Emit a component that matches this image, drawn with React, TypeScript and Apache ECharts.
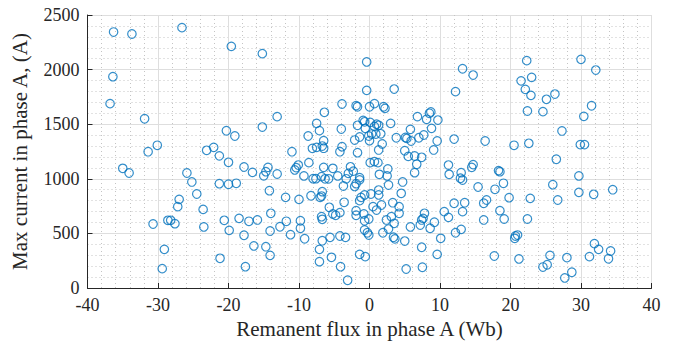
import React, { useEffect, useRef } from "react";
import * as echarts from "echarts";

const fluxA: number[] = [
  -36.3, -33.7, -26.6, -19.6, -36.4, -36.8, -31.9, -20.3, -30.1, -31.4, -23.1, -22.1, -21.3,
  -15.2, -0.4, -0.4, -3.9, -1.9, -1.7, 0.0, -6.4, -13.1, -15.2, -19.1, -7.5, -7.1, -4.0, -1.7, -0.9, -0.7, 0.1, -0.6, -8.7, -6.5, -2.1, -1.4, -0.1, 0.0, -11.0, -8.1, -7.5, -6.7, -6.5, -3.9, -4.2, -1.7,
  13.2, 14.7, 21.5, 3.5, 12.2, 0.7, 2.0, 2.2, 8.7, 8.5, 6.8, 8.1, 9.7, 3.0, 1.0, 0.7, 1.3, 8.8, 5.8, 0.3, 0.9, 1.6, 3.8, 5.1, 5.3, 7.0, 7.7, 5.9, 9.6, 12.0, 16.4, 20.5, 1.8, 1.3, 5.0, 9.1,
  22.3, 30.0, 32.1, 23.0, 22.1, 22.9, 25.1, 26.3, 22.4, 24.6, 31.5, 30.4, 27.3, 22.6, 29.9, 30.5,
  -20.0, -35.0, -34.1, -25.9, -25.2, -21.3, -20.0, -24.5, -27.0, -27.2, -23.6, -20.6, -28.6, -28.2, -27.6, -30.7, -23.5, -19.9, -29.1, -21.2, -29.4,
  -17.8, -16.6, -15.0, -14.7, -14.4, -13.1, -10.6, -10.4, -10.1, -8.6, -9.3, -8.0, -7.6, -6.5, -6.8, -6.3, -5.8, -5.2, -4.5, -2.7, -2.3, -3.0, -3.3, -1.4, -1.4, -2.1, -1.9, -3.7, 0.1, -18.9,
  -14.2, -11.9, -10.0, -8.3, -6.7, -6.8, -7.0, -3.6, -1.4, -1.2, -0.7, 0.2, 0.5, -14.0, -5.7, -5.2, -4.8, -4.2, -1.9, -1.9, -0.8, -0.7, -0.1, -18.5, -17.1, -15.9, -11.8, -12.7, -14.1, -9.8, -9.8, -6.8, -6.7,
  -17.8, -11.2, -9.2, -5.6, -4.2, -3.4, -6.7, -0.7, -0.3, -0.1, -16.4, -14.7, -14.1, -7.1, -7.1, -5.4, -1.4, -0.6, -17.6, -4.1, -3.1,
  5.5, 6.4, 7.4, 0.7, 1.2, 2.6, 6.7, 6.4, 1.4, 2.5, 2.7, 4.7, 4.5, 11.2, 11.3, 13.0, 12.9, 13.2, 14.5, 14.7, 15.4, 18.3, 18.5, 17.8, 19.0, 19.8, 1.3, 1.3, 1.0, 1.7, 3.3, 4.2, 4.2, 2.4, 3.1, 3.5,
  1.9, 2.7, 3.4, 3.6, 5.0, 5.8, 7.2, 7.4, 7.6, 7.8, 8.6, 9.2, 7.4, 10.1, 10.6, 11.2, 12.0, 13.2, 13.5, 12.2, 13.0, 9.6, 5.2, 7.5, 16.2, 16.6, 16.2, 18.5, 19.1, 17.7, 20.7, 20.6, 21.0, 21.2,
  26.5, 29.7, 26.0, 29.7, 31.8, 34.5, 22.8, 26.7, 22.4, 31.9, 32.5, 34.2, 33.9, 31.2, 25.6, 24.6, 25.2, 28.0, 27.7, 28.7,
];

const currentA: number[] = [
  2344, 2326, 2384, 2213, 1935, 1688, 1550, 1440, 1307, 1248, 1261, 1288, 1210,
  2146, 2070, 1810, 1685, 1670, 1660, 1660, 1609, 1569, 1474, 1392, 1508, 1441, 1456, 1490, 1535, 1522, 1517, 1462, 1392, 1349, 1355, 1383, 1392, 1349, 1248, 1279, 1288, 1300, 1280, 1294, 1248, 1239,
  2008, 1950, 1897, 1822, 1798, 1688, 1660, 1645, 1612, 1600, 1569, 1545, 1538, 1508, 1500, 1480, 1490, 1462, 1453, 1410, 1410, 1412, 1376, 1378, 1370, 1376, 1401, 1346, 1346, 1364, 1346, 1307, 1319, 1264, 1257, 1264,
  2082, 2094, 1996, 1929, 1819, 1764, 1728, 1776, 1621, 1615, 1669, 1572, 1438, 1325, 1313, 1313,
  1151, 1096, 1053, 1053, 971, 955, 950, 861, 812, 745, 720, 620, 620, 620, 589, 586, 559, 528, 354, 272, 177,
  1108, 1059, 1028, 1065, 1105, 1044, 1081, 1102, 1126, 1148, 1026, 1001, 1001, 1105, 1020, 1000, 1000, 1096, 1026, 1110, 1070, 1050, 1000, 1010, 990, 930, 955, 934, 1148, 959,
  891, 830, 812, 845, 882, 842, 830, 785, 800, 830, 852, 861, 745, 684, 739, 678, 666, 690, 708, 666, 678, 616, 632, 638, 611, 623, 611, 561, 522, 616, 547, 653, 629,
  483, 488, 451, 464, 476, 464, 433, 531, 506, 485, 385, 378, 299, 354, 241, 281, 308, 287, 195, 195, 71,
  1205, 1209, 1197, 1157, 1148, 1090, 1133, 1056, 1041, 1026, 943, 971, 867, 1126, 1041, 1056, 1005, 989, 1105, 1130, 925, 1075, 1065, 904, 959, 827, 897, 852, 714, 760, 781, 745, 684, 623, 653, 592,
  506, 540, 465, 450, 430, 559, 577, 623, 638, 684, 547, 602, 373, 455, 699, 647, 776, 699, 781, 506, 537, 308, 174, 190, 776, 806, 623, 708, 632, 293, 476, 455, 485, 266,
  1179, 1026, 946, 876, 858, 900, 821, 806, 632, 406, 354, 339, 268, 287, 299, 192, 213, 278, 92, 144,
];

const xTicks = [-40, 40, 10];
const yTicks = [0, 2500, 500];

const FONT = "Liberation Serif";
const TEXT = "#262626";

export default function App() {
  const ref = useRef<HTMLDivElement>(null);
  useEffect(() => {
    if (!ref.current) return;
    const chart = echarts.init(ref.current, undefined, { renderer: "svg" });
    const points = fluxA.map((x, i) => [x, currentA[i]]);
    const label = {
      color: TEXT,
      fontFamily: FONT,
      fontSize: 18,
      margin: 8,
      formatter: (v: number) => String(v),
    };
    const axisCommon = {
      axisLine: { show: true, onZero: false, lineStyle: { color: TEXT, width: 1 } },
      axisTick: { show: true, inside: true, length: 5, lineStyle: { color: TEXT } },
      splitLine: { show: true, lineStyle: { color: "#dedede", width: 1 } },
      minorTick: { show: false, splitNumber: 5 },
      minorSplitLine: { show: true, lineStyle: { color: "#c4c4c4", width: 1, type: [1, 3] } },
      nameLocation: "middle" as const,
      nameTextStyle: { color: TEXT, fontFamily: FONT, fontSize: 21 },
    };
    chart.setOption({
      animation: false,
      backgroundColor: "#ffffff",
      textStyle: { fontFamily: FONT },
      grid: { left: 87.5, right: 32.5, top: 15, bottom: 59, containLabel: false },
      xAxis: {
        type: "value",
        min: xTicks[0],
        max: xTicks[1],
        interval: xTicks[2],
        name: "Remanent flux in phase A (Wb)",
        nameGap: 29,
        ...axisCommon,
        axisLabel: label,
      },
      yAxis: {
        type: "value",
        min: yTicks[0],
        max: yTicks[1],
        interval: yTicks[2],
        name: "Max current in phase A, (A)",
        nameGap: 57,
        ...axisCommon,
        axisLabel: label,
      },
      series: [
        {
          type: "scatter",
          data: points,
          symbol: "circle",
          symbolSize: 8.5,
          itemStyle: { color: "rgba(0,0,0,0)", borderColor: "#0072BD", borderWidth: 1.2 },
        },
      ],
    });
    return () => chart.dispose();
  }, []);
  return (
    <div
      ref={ref}
      style={{ position: "fixed", left: 0, top: 0, width: 684, height: 347, background: "#fff" }}
    />
  );
}
